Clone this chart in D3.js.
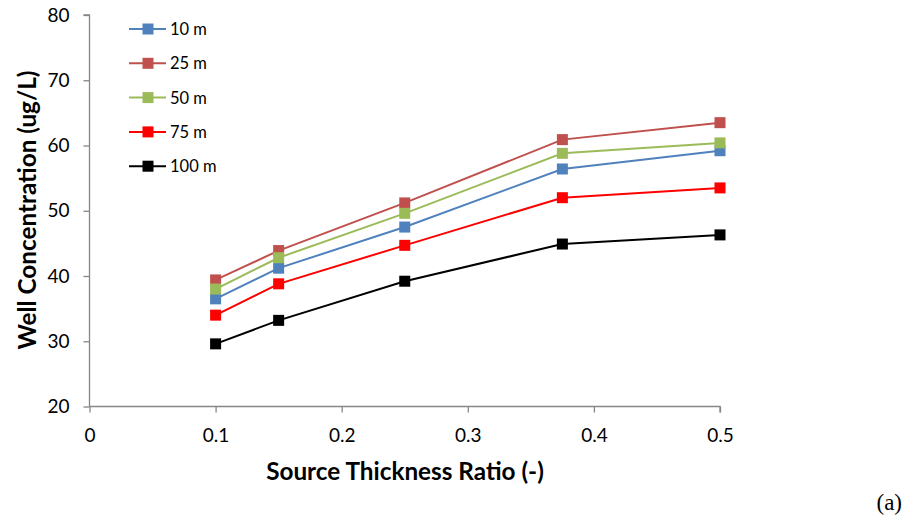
<!DOCTYPE html>
<html><head><meta charset="utf-8">
<script src="https://cdn.jsdelivr.net/npm/d3@7"></script>
<style>body{margin:0;background:#fff;}svg{display:block;}</style>
</head><body>
<svg id="c" width="907" height="529"></svg>
<script>
const xValues = [0.1, 0.15, 0.25, 0.375, 0.5];
const seriesNames = ["10 m", "25 m", "50 m", "75 m", "100 m"];
const seriesColors = ["#4F81BD", "#C0504D", "#9BBB59", "#FF0000", "#000000"];
const s10 = [36.5, 41.2, 47.5, 56.4, 59.2];
const s25 = [39.4, 43.9, 51.2, 60.9, 63.5];
const s50 = [38.0, 42.8, 49.6, 58.8, 60.4];
const s75 = [34.0, 38.8, 44.7, 52.0, 53.5];
const s100 = [29.6, 33.2, 39.2, 44.9, 46.3];
const xTicks = [0, 0.1, 0.2, 0.3, 0.4, 0.5];
const yTicks = [20, 30, 40, 50, 60, 70, 80];
const allSeries = [s10, s25, s50, s75, s100];

const svg = d3.select("#c");
const x = d3.scaleLinear().domain([0, 0.5]).range([89.5, 720]);
const y = d3.scaleLinear().domain([20, 80]).range([406.5, 15]);
const axisColor = "#868686";
const font = "Lato, 'Open Sans', sans-serif";

// axes
const yAxis = svg.append("g").attr("transform", "translate(89.5,0)")
  .call(d3.axisLeft(y).tickValues(yTicks).tickSize(6).tickPadding(14).tickFormat(d3.format("d")));
const xAxis = svg.append("g").attr("transform", "translate(0,406.5)")
  .call(d3.axisBottom(x).tickValues(xTicks).tickSize(6).tickPadding(16).tickFormat(d => d === 0 ? "0" : d3.format(".1f")(d)));
[yAxis, xAxis].forEach(g => {
  g.selectAll("path").attr("stroke", axisColor).attr("stroke-width", 1.3);
  g.selectAll("line").attr("stroke", axisColor).attr("stroke-width", 1.3);
  g.selectAll("text").attr("fill", "#000").style("font-family", font).style("font-size", "19px");
});
yAxis.select("path").attr("d", `M-6,${y(80)}H0V${y(20)}`);
xAxis.select("path").attr("d", `M${x(0)},0H${x(0.5)}V6`);

// lines and markers
const line = d3.line().x((d, i) => x(xValues[i])).y(d => y(d));
allSeries.forEach((s, k) => {
  svg.append("path").datum(s).attr("d", line).attr("fill", "none")
    .attr("stroke", seriesColors[k]).attr("stroke-width", 2);
});
allSeries.forEach((s, k) => {
  svg.append("g").selectAll("rect").data(s).join("rect")
    .attr("x", (d, i) => x(xValues[i]) - 5.5).attr("y", d => y(d) - 5.5)
    .attr("width", 11).attr("height", 11).attr("fill", seriesColors[k]);
});

// legend
const leg = svg.append("g");
seriesNames.forEach((n, k) => {
  const ly = 29 + k * 34.3;
  leg.append("line").attr("x1", 129).attr("x2", 166).attr("y1", ly).attr("y2", ly)
    .attr("stroke", seriesColors[k]).attr("stroke-width", 2);
  leg.append("rect").attr("x", 142.5).attr("y", ly - 5.5).attr("width", 11).attr("height", 11)
    .attr("fill", seriesColors[k]);
  leg.append("text").attr("x", 170).attr("y", ly + 6).text(n)
    .style("font-family", font).style("font-size", "16.5px").attr("fill", "#000");
});

// titles
svg.append("text").attr("x", 405).attr("y", 480).attr("text-anchor", "middle")
  .style("font-family", font).style("font-size", "24.3px").style("font-weight", "bold")
  .text("Source Thickness Ratio (-)");
svg.append("text").attr("transform", "translate(36,210) rotate(-90)").attr("text-anchor", "middle")
  .style("font-family", font).style("font-size", "24.3px").style("font-weight", "bold")
  .text("Well Concentration (ug/L)");
svg.append("text").attr("x", 902).attr("y", 510).attr("text-anchor", "end")
  .style("font-family", "'Liberation Serif', serif").style("font-size", "23px")
  .text("(a)");
</script>
</body></html>
